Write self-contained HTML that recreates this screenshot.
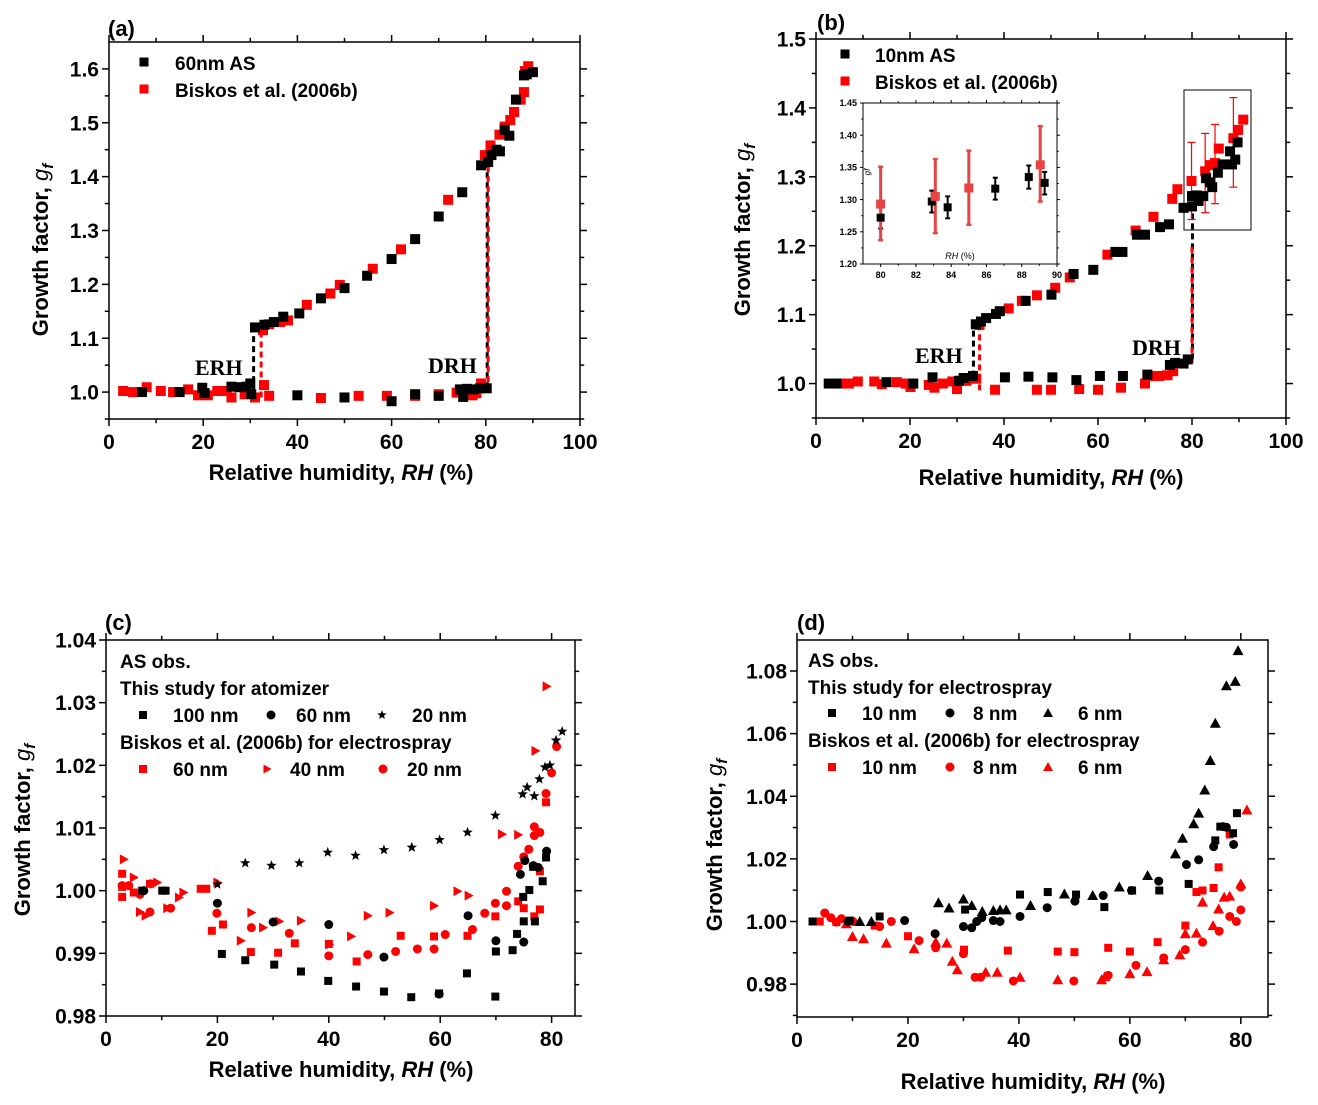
<!DOCTYPE html>
<html><head><meta charset="utf-8"><style>
html,body{margin:0;padding:0;background:#fff;}
svg{display:block;font-family:"Liberation Sans",Arial,sans-serif;font-weight:bold;}
</style></head><body>
<svg id="fig" width="1318" height="1105" viewBox="0 0 1318 1105" xmlns="http://www.w3.org/2000/svg"></svg>
<script>
// ---------- Panel (a) data ----------
const aBlackUpper = [[31,1.12],[33,1.125],[35,1.13],[37,1.14],[40.4,1.146],[45,1.174],[50,1.193],[54.8,1.216],[60,1.247],[65,1.284],[70,1.326],[75,1.371],[79,1.421],[80.5,1.427],[81.2,1.44],[82.3,1.45],[83,1.447],[84,1.487],[85,1.476],[86.4,1.543],[88.1,1.588],[88.7,1.59],[90,1.594]];
const aBlackLower = [[7,1.0],[15,1.0],[19.8,1.008],[20.3,0.998],[26,1.01],[27.8,1.009],[29.2,1.01],[30,1.016],[30.2,0.996],[40,0.994],[50,0.99],[60,0.983],[65,0.996],[70,0.993],[74.5,1.005],[75.2,0.991],[76,1.006],[77.3,1.005],[78.8,1.007],[80.2,1.007]];
const aRedUpper = [[32.7,1.115],[34,1.126],[36.3,1.13],[38,1.133],[42,1.162],[47,1.183],[49,1.199],[56,1.229],[62,1.265],[72,1.357],[79.8,1.44],[81,1.458],[82.9,1.478],[84,1.493],[85.2,1.505],[86,1.52],[87.4,1.543],[88.1,1.557],[88.3,1.596],[89,1.605]];
const aRedLower = [[3,1.002],[5.1,1.0],[8,1.009],[11,1.002],[13.6,1.0],[16.8,1.005],[18.9,0.994],[21,0.994],[23,1.002],[25,1.002],[26,0.99],[28.8,0.996],[31,0.99],[32.9,1.013],[34,0.993],[45,0.989],[53,0.993],[59,0.993],[65,0.993],[70,0.996],[73.8,0.999],[77.2,0.994],[78,0.998],[79,1.016]];
const aXTicks = [0,20,40,60,80,100];
const aYTicks = [1.0,1.1,1.2,1.3,1.4,1.5,1.6];
const aYTickLabels = ["1.0","1.1","1.2","1.3","1.4","1.5","1.6"];
// dashed transitions: [rh, gfFrom, gfTo]
const aBlackJumps = [[30.7,1.0,1.12],[80.3,1.007,1.42]];
const aRedJumps = [[32.3,0.99,1.115],[80.5,1.0,1.43]];

// ---------- Panel (b) data ----------
const bBlack = [[2.7,1.0],[4.4,1.0],[15,1.002],[20.7,1.0],[24.8,1.009],[30.4,1.004],[31.4,1.008],[33.4,1.011],[40.2,1.009],[45.2,1.01],[50.3,1.009],[55.4,1.005],[60.4,1.011],[65.3,1.011],[70.5,1.013],[75.3,1.027],[76.4,1.03],[78.2,1.029],[79.1,1.035],
 [34,1.086],[35.1,1.09],[36.2,1.095],[38.3,1.101],[39.1,1.105],[44.6,1.12],[50.1,1.129],[54.8,1.159],[59,1.165],[63.7,1.191],[65.2,1.191],[68.3,1.216],[70,1.216],[73.2,1.227],[75.1,1.231],[78.2,1.255],[80,1.257],[80,1.272],[81,1.273],[81.4,1.265],[82.4,1.272],[83,1.298],[83.8,1.292],[84.3,1.285],[85.5,1.306],[86.5,1.318],[88.1,1.337],[88.5,1.318],[89.2,1.325],[89.7,1.35]];
const bRed = [[5.8,1.0],[7,1.0],[8.9,1.003],[12.4,1.003],[14,0.999],[17.2,1.002],[19.1,1.0],[20.1,0.995],[24,0.998],[25.2,0.994],[27,1.0],[29,1.003],[30,0.992],[32,1.004],[34.1,1.007],[38.1,0.991],[47,0.991],[50,0.991],[56,0.992],[60,0.991],[64.9,0.994],[70,1.0],[72,1.011],[73,1.011],[74.8,1.012],[76,1.018],
 [34.8,1.085],[41,1.109],[43.8,1.12],[47,1.128],[50.9,1.139],[54,1.154],[62,1.187],[68,1.222],[71.8,1.242],[75.8,1.268],[76.9,1.282],[79.9,1.294],[82.8,1.308],[83.8,1.317],[84.9,1.32],[85.7,1.341],[88.8,1.356],[89.8,1.368],[90.9,1.383]];
// red error bars: [rh, low, high]
const bRedErr = [[79.9,1.238,1.35],[82.8,1.248,1.363],[84.9,1.261,1.376],[88.8,1.285,1.415]];
const bBlackJumps = [[33.5,1.01,1.085],[80.1,1.035,1.26]];
const bRedJumps = [[34.8,0.99,1.085],[80,1.03,1.2]];
const bXTicks = [0,20,40,60,80,100];
const bYTicks = [1.0,1.1,1.2,1.3,1.4,1.5];
const bYTickLabels = ["1.0","1.1","1.2","1.3","1.4","1.5"];
// inset: [rh, gf, errLow, errHigh]
const insetBlack = [[80,1.272,1.255,1.288],[82.9,1.297,1.28,1.314],[83.8,1.288,1.271,1.305],[86.5,1.317,1.3,1.334],[88.4,1.335,1.317,1.353],[89.3,1.326,1.308,1.343]];
const insetRed = [[80,1.293,1.237,1.351],[83.1,1.305,1.248,1.363],[85,1.318,1.261,1.376],[89.05,1.354,1.297,1.414]];
const insetXTicks = [80,82,84,86,88,90];
const insetYTicks = [1.20,1.25,1.30,1.35,1.40,1.45];
const insetYTickLabels = ["1.20","1.25","1.30","1.35","1.40","1.45"];

// ---------- Panel (c) data ----------
const c100 = [[6.5,1.0],[10.1,1.0],[10.7,1.0],[20.8,0.9899],[25,0.9889],[30.2,0.9882],[35,0.9871],[39.9,0.9856],[44.9,0.9847],[49.9,0.9839],[54.8,0.983],[59.8,0.9836],[64.8,0.9868],[69.9,0.9831],[70,0.9903],[73,0.9905],[73.8,0.9931],[75,0.9951],[74.9,0.999],[76,1.0001],[77,0.9951],[76.7,1.0038],[78.4,1.0015],[79,1.0053]];
const c60 = [[6.8,1.0],[20,0.998],[30,0.995],[40,0.9946],[49.9,0.9894],[59.8,0.9835],[65,0.996],[70,0.992],[74.4,1.0026],[75,0.9918],[75.2,1.0048],[76.7,1.004],[77.6,1.0037],[79.1,1.0063]];
const c20 = [[20,1.001],[25,1.0044],[29.7,1.004],[34.7,1.0044],[39.8,1.0061],[44.8,1.0056],[49.9,1.0065],[54.9,1.0069],[59.9,1.0081],[64.9,1.0093],[69.9,1.012],[74.8,1.0154],[75.6,1.0165],[76.9,1.0151],[77.8,1.0178],[78.8,1.0197],[79.7,1.02],[80.8,1.024],[81.9,1.0254]];
const cB60 = [[2.9,1.0027],[2.9,1.0006],[2.9,0.999],[5,0.9997],[7.9,1.0011],[17,1.0003],[18,1.0003],[19,0.9936],[21,0.9946],[26,0.9902],[30.9,0.9901],[33.9,0.9916],[40,0.9915],[45,0.9887],[52.9,0.9928],[58.9,0.9927],[64.9,0.9928],[69.9,0.9959],[74,0.9983],[75,0.9972],[76.9,0.9959],[77.9,0.997],[77.9,1.0031],[79,1.0141]];
const cB40 = [[3.2,1.005],[5,1.0021],[6.1,0.9966],[7.1,0.996],[8.6,1.0011],[9.2,1.0013],[11,0.9972],[13.1,0.9989],[13.9,0.9997],[20,1.0013],[24.2,0.992],[26.1,0.9965],[28.2,0.9941],[31.1,0.9951],[35,0.9952],[40.1,0.9914],[44,0.9927],[47,0.996],[50.9,0.9965],[58.9,0.9976],[63.1,0.9999],[65.1,0.9992],[71.1,1.009],[74,1.0089],[77.1,1.0223],[79.1,1.0326]];
const cB20 = [[2.9,1.0008],[4.1,1.0008],[6.1,0.9994],[7.9,0.9966],[11.6,0.9972],[19.9,0.9964],[26.1,0.9941],[32.9,0.9932],[40,0.9896],[47,0.9898],[52,0.9903],[55.9,0.9907],[58.9,0.9907],[60.9,0.993],[65.8,0.9938],[68,0.9964],[69.9,0.998],[71.9,0.9976],[71.9,0.9999],[74,1.0039],[75,1.0054],[75.9,1.0066],[76.9,1.0102],[76.9,1.0088],[77.9,1.0093],[79,1.0155],[80,1.0188],[80.9,1.023]];
const cXTicks = [0,20,40,60,80];
const cYTicks = [0.98,0.99,1.0,1.01,1.02,1.03,1.04];
const cYTickLabels = ["0.98","0.99","1.00","1.01","1.02","1.03","1.04"];

// ---------- Panel (d) data ----------
const d10 = [[2.8,1.0],[9.5,1.0003],[14.9,1.0016],[30.3,1.0038],[40.2,1.0086],[45.2,1.0094],[50.3,1.0086],[55.4,1.0046],[60.4,1.0099],[65.3,1.0099],[70.6,1.012],[75.4,1.0259],[76.3,1.0303],[78.6,1.0282],[79.3,1.0346]];
const d8 = [[9.2,1.0],[19.4,1.0003],[24.9,0.9961],[30,0.9984],[31.5,0.998],[32.4,1.0],[33.3,1.0012],[35.4,1.0003],[36.6,1.0],[40.2,1.0016],[45.1,1.0044],[50.1,1.0065],[55.2,1.0083],[60.3,1.0099],[65.2,1.0129],[70.2,1.0182],[72.4,1.0197],[75.1,1.0239],[76.8,1.0303],[77.4,1.0301],[78.7,1.0246]];
const d6 = [[11.3,1.0],[13.4,1.0],[25.5,1.006],[27.4,1.0043],[30,1.0072],[31.5,1.0051],[33.4,1.0032],[35.4,1.0035],[36.6,1.0037],[37.7,1.0037],[42.1,1.0051],[48.2,1.0088],[53.3,1.0083],[58.1,1.011],[63.2,1.0147],[68.2,1.0216],[69.5,1.0266],[71.5,1.0312],[72.4,1.0346],[73.5,1.042],[74.5,1.0514],[75.4,1.0633],[77.4,1.0753],[79,1.0767],[79.5,1.0865]];
const dB10 = [[4.1,1.0],[7.1,0.9998],[14,0.9987],[20,0.9953],[30.1,0.991],[38,0.9907],[47,0.9904],[50,0.9902],[56.1,0.9916],[60,0.9904],[65,0.9934],[70,0.9987],[72,1.0094],[73.1,1.0099],[75.1,1.0107],[76,1.0173],[78,1.0278]];
const dB8 = [[5,1.0027],[6.1,1.0012],[7.1,0.9998],[8,1.0009],[10.1,1.0],[14.9,0.9984],[17,1.0],[22,0.9939],[25,0.9916],[30,0.9897],[32.1,0.9822],[33.1,0.9822],[39,0.981],[49.9,0.981],[56.1,0.9828],[61.1,0.986],[66.1,0.9884],[70,0.991],[73.1,0.9934],[76.1,0.9969],[78,1.0016],[79.2,1.0],[80,1.0037],[80,1.011]];
const dB6 = [[8.9,0.9993],[10,0.9952],[12,0.9945],[16.1,0.9931],[21.1,0.9913],[25,0.9934],[27,0.9931],[28,0.9873],[28.9,0.9846],[34,0.9838],[36.1,0.9838],[40.2,0.9822],[47,0.9814],[54.9,0.9814],[55.5,0.9824],[60,0.9833],[63.1,0.984],[66.1,0.9878],[69,0.9894],[70,0.9961],[72,0.9963],[73.1,1.0062],[75,0.9987],[76,1.004],[77,1.0078],[78,1.0081],[80,1.012],[81.1,1.0356]];
const dXTicks = [0,20,40,60,80];
const dYTicks = [0.98,1.0,1.02,1.04,1.06,1.08];
const dYTickLabels = ["0.98","1.00","1.02","1.04","1.06","1.08"];

// ---------- rendering ----------
const NS = "http://www.w3.org/2000/svg";
const svg = document.getElementById('fig');
const RED = "#ff0000";
function mk(tag, attrs, parent, text) {
  const e = document.createElementNS(NS, tag);
  for (const k in attrs) e.setAttribute(k, attrs[k]);
  if (text !== undefined) e.textContent = text;
  (parent || svg).appendChild(e);
  return e;
}
function scale(d0, d1, p0, p1) { return v => p0 + (v - d0) / (d1 - d0) * (p1 - p0); }

function marker(g, type, x, y, s, color) {
  let e;
  if (type === 'sq') e = mk('rect', {x: x - s/2, y: y - s/2, width: s, height: s, fill: color}, g);
  else if (type === 'ci') e = mk('circle', {cx: x, cy: y, r: s/2 + 0.5, fill: color}, g);
  else if (type === 'tr') e = mk('polygon', {points: `${x-s/2},${y-s/2-1} ${x+s/2+1},${y} ${x-s/2},${y+s/2+1}`, fill: color}, g);
  else if (type === 'tu') e = mk('polygon', {points: `${x},${y-s/2-1.5} ${x+s/2+1.5},${y+s/2+0.5} ${x-s/2-1.5},${y+s/2+0.5}`, fill: color}, g);
  else if (type === 'st') {
    const pts = [];
    const R = s/2 + 1.5, r = R * 0.42;
    for (let i = 0; i < 10; i++) {
      const a = -Math.PI/2 + i * Math.PI / 5, rr = i % 2 ? r : R;
      pts.push((x + rr*Math.cos(a)).toFixed(1) + ',' + (y + rr*Math.sin(a)).toFixed(1));
    }
    e = mk('polygon', {points: pts.join(' '), fill: color}, g);
  }
  return e;
}

function drawSeries(g, data, sx, sy, type, s, color, name) {
  const sg = mk('g', {}, g);
  
  
  data.forEach(p => {
    const m = marker(sg, type, sx(p[0]), sy(p[1]), s, color);
    
    
  });
}

function drawJumps(g, jumps, sx, sy, color, name) {
  jumps.forEach(j => {
    const l = mk('line', {x1: sx(j[0]), x2: sx(j[0]), y1: sy(j[1]), y2: sy(j[2]), stroke: color, 'stroke-width': 3, 'stroke-dasharray': '6,4'}, g);
    
    
  });
}

function axes(g, o) {
  // o: L,R,T,B, xd:[min,max], yd:[min,max], xt, yt, ytl, minorX, minorY, fs, tl
  const sx = scale(o.xd[0], o.xd[1], o.L, o.R), sy = scale(o.yd[0], o.yd[1], o.B, o.T);
  const fr = mk('rect', {x: o.L, y: o.T, width: o.R - o.L, height: o.B - o.T, fill: 'none', stroke: '#000', 'stroke-width': o.sw || 1.5}, g);
  
  
  const tl = o.tl || 7;
  const tg = mk('g', {stroke: '#000', 'stroke-width': o.sw || 1.5}, g);
  
  
  const xg = mk('g', {'font-size': o.fs, 'text-anchor': 'middle'}, g);
  
  
  o.xt.forEach((v, i) => {
    const x = sx(v);
    mk('line', {x1: x, x2: x, y1: o.B, y2: o.B + tl}, tg);
    mk('line', {x1: x, x2: x, y1: o.T, y2: o.T - tl}, tg);
    const t = mk('text', {x: x, y: o.B + tl + o.fs + 2}, xg, o.xtl ? o.xtl[i] : String(v));
  });
  const stepX = o.xt[1] - o.xt[0];
  for (let i = 0; i < o.xt.length - 1; i++) {
    const x = sx(o.xt[i] + stepX / 2);
    if (x > o.R) break;
    mk('line', {x1: x, x2: x, y1: o.B, y2: o.B + tl * 0.6}, tg);
    mk('line', {x1: x, x2: x, y1: o.T, y2: o.T - tl * 0.6}, tg);
  }
  if (o.extraMinorX) { const x = sx(o.xt[o.xt.length-1] + stepX/2); if (x < o.R) { mk('line', {x1: x, x2: x, y1: o.B, y2: o.B + tl*0.6}, tg); mk('line', {x1: x, x2: x, y1: o.T, y2: o.T - tl*0.6}, tg);} }
  const yg = mk('g', {'font-size': o.fs, 'text-anchor': 'end'}, g);
  
  
  o.yt.forEach((v, i) => {
    const y = sy(v);
    mk('line', {x1: o.L, x2: o.L - tl, y1: y, y2: y}, tg);
    mk('line', {x1: o.R, x2: o.R + tl, y1: y, y2: y}, tg);
    mk('text', {x: o.L - tl - 3, y: y + o.fs * 0.36}, yg, o.ytl[i]);
  });
  const stepY = o.yt[1] - o.yt[0];
  for (let v = o.yt[0] - stepY / 2; v < o.yd[1]; v += stepY) {
    if (v < o.yd[0]) continue;
    const y = sy(v);
    mk('line', {x1: o.L, x2: o.L - tl * 0.6, y1: y, y2: y}, tg);
    mk('line', {x1: o.R, x2: o.R + tl * 0.6, y1: y, y2: y}, tg);
  }
  return {sx, sy};
}

function titles(g, o) {
  const xt = mk('text', {x: o.xtx, y: o.xty, 'font-size': 22, 'text-anchor': 'middle'}, g);
  
  
  mk('tspan', {}, xt, 'Relative humidity, ');
  mk('tspan', {'font-style': 'italic'}, xt, 'RH');
  mk('tspan', {}, xt, ' (%)');
  const yt = mk('text', {x: 0, y: 0, 'font-size': 22, 'text-anchor': 'middle', transform: `translate(${o.ytx},${o.yty}) rotate(-90)`}, g);
  
  
  mk('tspan', {}, yt, 'Growth factor, ');
  mk('tspan', {'font-style': 'italic', 'font-weight': 'normal'}, yt, 'g');
  mk('tspan', {'font-style': 'italic', 'font-size': 15, dy: 5}, yt, 'f');
  const pl = mk('text', {x: o.plx, y: o.ply, 'font-size': 22}, g, o.label);
  
  
}

function legendText(g, x, y, txt, name, fs) {
  const t = mk('text', {x: x, y: y + (fs || 19) * 0.36, 'font-size': fs || 19}, g, txt);
  
  
}
function legendMarker(g, type, x, y, s, color, name) {
  const m = marker(g, type, x, y, s, color);
  
  
}
function serifLabel(g, x, y, txt, name) {
  const t = mk('text', {x: x, y: y, 'font-size': 22, 'font-family': '"Liberation Serif", serif'}, g, txt);
  
  
}

// ===== Panel a =====
(function(){
  const g = mk('g', {});
  
  
  const {sx, sy} = axes(g, {name: 'panel-a', L: 109, R: 580, T: 42, B: 419, xd: [0, 100], yd: [0.95, 1.65], xt: aXTicks, yt: aYTicks, ytl: aYTickLabels, fs: 21});
  drawJumps(g, aBlackJumps, sx, sy, '#000', 'black-dashed-transition');
  drawJumps(g, aRedJumps, sx, sy, RED, 'red-dashed-transition');
  drawSeries(g, aRedLower, sx, sy, 'sq', 10, RED, 'biskos-efflorescence-series');
  drawSeries(g, aRedUpper, sx, sy, 'sq', 10, RED, 'biskos-deliquescence-series');
  drawSeries(g, aBlackLower, sx, sy, 'sq', 10, '#000', 'as60nm-lower-series');
  drawSeries(g, aBlackUpper, sx, sy, 'sq', 10, '#000', 'as60nm-upper-series');
  serifLabel(g, 195, 375, 'ERH', 'erh-label');
  serifLabel(g, 428, 373, 'DRH', 'drh-label');
  legendMarker(g, 'sq', 144, 62, 9, '#000', 'legend-60nm-as-marker');
  legendText(g, 175, 63, '60nm AS', 'legend-60nm-as', 19);
  legendMarker(g, 'sq', 144, 89, 9, RED, 'legend-biskos-marker');
  legendText(g, 175, 90, 'Biskos et al. (2006b)', 'legend-biskos', 19);
  titles(g, {name: 'panel-a', xtx: 341, xty: 480, ytx: 48, yty: 250, plx: 108, ply: 36, label: '(a)'});
})();

// ===== Panel b =====
(function(){
  const g = mk('g', {});
  
  
  const {sx, sy} = axes(g, {name: 'panel-b', L: 816, R: 1286, T: 39, B: 418, xd: [0, 100], yd: [0.95, 1.5], xt: bXTicks, yt: bYTicks, ytl: bYTickLabels, fs: 21});
  drawJumps(g, bBlackJumps, sx, sy, '#000', 'black-dashed-transition');
  drawJumps(g, bRedJumps, sx, sy, RED, 'red-dashed-transition');
  const eg = mk('g', {stroke: RED, 'stroke-width': 1.2});
  
  
  g.appendChild(eg);
  bRedErr.forEach(e => {
    const x = sx(e[0]);
    mk('line', {x1: x, x2: x, y1: sy(e[1]), y2: sy(e[2])}, eg);
    mk('line', {x1: x - 4, x2: x + 4, y1: sy(e[1]), y2: sy(e[1])}, eg);
    mk('line', {x1: x - 4, x2: x + 4, y1: sy(e[2]), y2: sy(e[2])}, eg);
  });
  drawSeries(g, bRed, sx, sy, 'sq', 10, RED, 'biskos-10nm-series');
  drawSeries(g, bBlack, sx, sy, 'sq', 10, '#000', 'as10nm-series');
  const zb = mk('rect', {x: 1184, y: 90, width: 67, height: 140, fill: 'none', stroke: '#000', 'stroke-width': 1}, g);
  
  
  serifLabel(g, 915, 363, 'ERH', 'erh-label');
  serifLabel(g, 1132, 355, 'DRH', 'drh-label');
  legendMarker(g, 'sq', 845, 54, 9, '#000', 'legend-10nm-as-marker');
  legendText(g, 875, 55, '10nm AS', 'legend-10nm-as', 19);
  legendMarker(g, 'sq', 845, 81, 9, RED, 'legend-biskos-marker');
  legendText(g, 875, 82, 'Biskos et al. (2006b)', 'legend-biskos', 19);
  titles(g, {name: 'panel-b', xtx: 1051, xty: 485, ytx: 750, yty: 230, plx: 817, ply: 30, label: '(b)'});

  // inset
  const ig = mk('g', {'font-size': 9});
  
  
  g.appendChild(ig);
  mk('rect', {x: 863, y: 103, width: 194, height: 161, fill: '#fff'}, ig);
  const s2 = axes(ig, {name: 'inset', L: 863, R: 1057, T: 103, B: 264, xd: [79, 90], yd: [1.20, 1.45], xt: insetXTicks, yt: insetYTicks, ytl: insetYTickLabels, fs: 9, tl: 3, sw: 1});
  const ieg = mk('g', {}, ig);
  
  
  insetBlack.forEach(p => {
    const x = s2.sx(p[0]);
    mk('line', {x1: x, x2: x, y1: s2.sy(p[2]), y2: s2.sy(p[3]), stroke: '#000', 'stroke-width': 2}, ieg);
    mk('line', {x1: x-2.5, x2: x+2.5, y1: s2.sy(p[2]), y2: s2.sy(p[2]), stroke: '#000', 'stroke-width': 2}, ieg);
    mk('line', {x1: x-2.5, x2: x+2.5, y1: s2.sy(p[3]), y2: s2.sy(p[3]), stroke: '#000', 'stroke-width': 2}, ieg);
  });
  insetRed.forEach(p => {
    const x = s2.sx(p[0]);
    mk('line', {x1: x, x2: x, y1: s2.sy(p[2]), y2: s2.sy(p[3]), stroke: '#e84444', 'stroke-width': 3}, ieg);
    mk('line', {x1: x-2.5, x2: x+2.5, y1: s2.sy(p[2]), y2: s2.sy(p[2]), stroke: '#e84444', 'stroke-width': 2.5}, ieg);
    mk('line', {x1: x-2.5, x2: x+2.5, y1: s2.sy(p[3]), y2: s2.sy(p[3]), stroke: '#e84444', 'stroke-width': 2.5}, ieg);
  });
  drawSeries(ig, insetBlack, s2.sx, s2.sy, 'sq', 8, '#000', 'inset-as10nm-series');
  drawSeries(ig, insetRed, s2.sx, s2.sy, 'sq', 9, '#e84444', 'inset-biskos-series');
  const ixt = mk('text', {x: 960, y: 259, 'font-size': 9, 'font-weight': 'normal', 'text-anchor': 'middle'}, ig);
  
  
  mk('tspan', {'font-style': 'italic'}, ixt, 'RH');
  mk('tspan', {}, ixt, ' (%)');
  const iyt = mk('text', {x: 0, y: 0, 'font-size': 8, 'font-style': 'italic', 'font-weight': 'normal', 'text-anchor': 'middle', transform: 'translate(870,172) rotate(-90)'}, ig, 'gf');
  
  
})();

// ===== Panel c =====
(function(){
  const g = mk('g', {});
  
  
  const {sx, sy} = axes(g, {name: 'panel-c', L: 106, R: 575, T: 640, B: 1016, xd: [0, 84.2], yd: [0.98, 1.04], xt: cXTicks, yt: cYTicks, ytl: cYTickLabels, fs: 21, extraMinorX: true});
  drawSeries(g, cB60, sx, sy, 'sq', 8, RED, 'biskos-60nm-series');
  drawSeries(g, cB40, sx, sy, 'tr', 8, RED, 'biskos-40nm-series');
  drawSeries(g, cB20, sx, sy, 'ci', 8, RED, 'biskos-20nm-series');
  drawSeries(g, c100, sx, sy, 'sq', 8, '#000', 'atomizer-100nm-series');
  drawSeries(g, c60, sx, sy, 'ci', 8, '#000', 'atomizer-60nm-series');
  drawSeries(g, c20, sx, sy, 'st', 8, '#000', 'atomizer-20nm-series');
  legendText(g, 120, 661, 'AS obs.', 'legend-heading');
  legendText(g, 120, 688, 'This study for atomizer', 'legend-this-study');
  legendMarker(g, 'sq', 143, 715, 8, '#000', 'legend-100nm-marker');
  legendText(g, 173, 715, '100 nm', 'legend-100nm');
  legendMarker(g, 'ci', 271, 715, 8, '#000', 'legend-60nm-marker');
  legendText(g, 296, 715, '60 nm', 'legend-60nm');
  legendMarker(g, 'st', 382, 715, 7, '#000', 'legend-20nm-marker');
  legendText(g, 412, 715, '20 nm', 'legend-20nm');
  legendText(g, 120, 742, 'Biskos et al. (2006b) for electrospray', 'legend-biskos');
  legendMarker(g, 'sq', 143, 769, 8, RED, 'legend-biskos-60nm-marker');
  legendText(g, 173, 769, '60 nm', 'legend-biskos-60nm');
  legendMarker(g, 'tr', 267, 769, 7, RED, 'legend-biskos-40nm-marker');
  legendText(g, 290, 769, '40 nm', 'legend-biskos-40nm');
  legendMarker(g, 'ci', 383, 769, 8, RED, 'legend-biskos-20nm-marker');
  legendText(g, 407, 769, '20 nm', 'legend-biskos-20nm');
  titles(g, {name: 'panel-c', xtx: 341, xty: 1077, ytx: 30, yty: 830, plx: 105, ply: 630, label: '(c)'});
})();

// ===== Panel d =====
(function(){
  const g = mk('g', {});
  
  
  const {sx, sy} = axes(g, {name: 'panel-d', L: 797, R: 1268, T: 640, B: 1017, xd: [0, 84.9], yd: [0.9695, 1.0899], xt: dXTicks, yt: dYTicks, ytl: dYTickLabels, fs: 21, extraMinorX: true});
  drawSeries(g, dB10, sx, sy, 'sq', 8, RED, 'biskos-10nm-series');
  drawSeries(g, dB8, sx, sy, 'ci', 8, RED, 'biskos-8nm-series');
  drawSeries(g, dB6, sx, sy, 'tu', 8, RED, 'biskos-6nm-series');
  drawSeries(g, d10, sx, sy, 'sq', 8, '#000', 'electrospray-10nm-series');
  drawSeries(g, d8, sx, sy, 'ci', 8, '#000', 'electrospray-8nm-series');
  drawSeries(g, d6, sx, sy, 'tu', 8, '#000', 'electrospray-6nm-series');
  legendText(g, 808, 660, 'AS obs.', 'legend-heading');
  legendText(g, 808, 687, 'This study for electrospray', 'legend-this-study');
  legendMarker(g, 'sq', 832, 713, 8, '#000', 'legend-10nm-marker');
  legendText(g, 862, 713, '10 nm', 'legend-10nm');
  legendMarker(g, 'ci', 950, 713, 8, '#000', 'legend-8nm-marker');
  legendText(g, 973, 713, '8 nm', 'legend-8nm');
  legendMarker(g, 'tu', 1048, 713, 7, '#000', 'legend-6nm-marker');
  legendText(g, 1078, 713, '6 nm', 'legend-6nm');
  legendText(g, 808, 740, 'Biskos et al. (2006b) for electrospray', 'legend-biskos');
  legendMarker(g, 'sq', 832, 767, 8, RED, 'legend-biskos-10nm-marker');
  legendText(g, 862, 767, '10 nm', 'legend-biskos-10nm');
  legendMarker(g, 'ci', 950, 767, 8, RED, 'legend-biskos-8nm-marker');
  legendText(g, 973, 767, '8 nm', 'legend-biskos-8nm');
  legendMarker(g, 'tu', 1048, 767, 7, RED, 'legend-biskos-6nm-marker');
  legendText(g, 1078, 767, '6 nm', 'legend-biskos-6nm');
  titles(g, {name: 'panel-d', xtx: 1033, xty: 1089, ytx: 722, yty: 845, plx: 797, ply: 630, label: '(d)'});
})();
</script>
</body></html>
